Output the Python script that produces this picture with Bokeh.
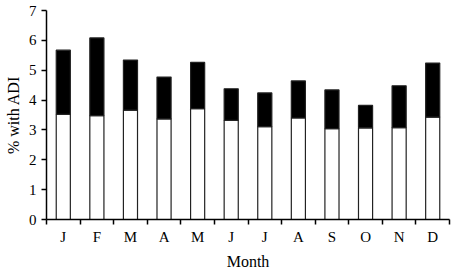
from bokeh.plotting import figure
from bokeh.models import FixedTicker, Range1d, ColumnDataSource
from bokeh.embed import file_html
from bokeh.resources import INLINE

months = ["J", "F", "M", "A", "M", "J", "J", "A", "S", "O", "N", "D"]
lower = [3.52, 3.48, 3.66, 3.37, 3.71, 3.32, 3.11, 3.40, 3.04, 3.07, 3.08, 3.43]
upper = [2.15, 2.60, 1.68, 1.40, 1.55, 1.06, 1.13, 1.24, 1.30, 0.75, 1.40, 1.81]

xpos = [i + 0.5 for i in range(len(months))]
src = ColumnDataSource(dict(x=xpos, lower=lower, upper=upper))

p = figure(width=452, height=272, output_backend="svg", toolbar_location=None,
           x_range=Range1d(0, 12), y_range=Range1d(0, 7),
           min_border_left=46, min_border_right=3, min_border_top=10, min_border_bottom=52)

p.vbar_stack(["lower", "upper"], x="x", width=0.42, source=src,
             fill_color=["white", "black"], line_color="#222222", line_width=1.2)

FONT = "Liberation Serif"
p.xaxis.ticker = FixedTicker(ticks=xpos, minor_ticks=list(range(13)))
p.xaxis.major_label_overrides = {x: m for x, m in zip(xpos, months)}
p.xaxis.major_tick_out = 0
p.xaxis.major_tick_in = 0
p.xaxis.minor_tick_out = 5
p.xaxis.minor_tick_in = 0
p.xaxis.axis_label = "Month"

p.yaxis.ticker = FixedTicker(ticks=list(range(8)))
p.yaxis.minor_tick_out = 0
p.yaxis.minor_tick_in = 0
p.yaxis.major_tick_in = 0
p.yaxis.major_tick_out = 5
p.yaxis.axis_label = "% with ADI"

for ax in (p.xaxis, p.yaxis):
    ax.major_label_text_font = FONT
    ax.major_label_text_font_size = "15px"
    ax.major_label_text_color = "black"
    ax.axis_label_text_font = FONT
    ax.axis_label_text_font_size = "16px"
    ax.axis_label_text_font_style = "normal"
    ax.axis_label_text_color = "black"
    ax.axis_line_color = "black"
    ax.major_tick_line_color = "black"
    ax.minor_tick_line_color = "black"
    ax.axis_line_width = 1.5
    ax.major_tick_line_width = 1.5
    ax.minor_tick_line_width = 1.5

p.xaxis.major_label_standoff = 4
p.xaxis.axis_label_standoff = 5
p.yaxis.major_label_standoff = 5
p.yaxis.axis_label_standoff = 4

p.xgrid.visible = False
p.ygrid.visible = False
p.outline_line_color = None

open("out.html", "w").write(file_html(p, INLINE))
